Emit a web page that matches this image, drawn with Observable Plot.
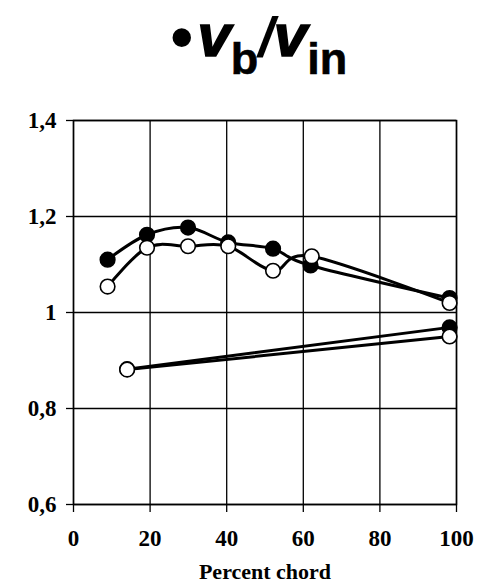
<!DOCTYPE html>
<html>
<head>
<meta charset="utf-8">
<script src="https://cdn.jsdelivr.net/npm/d3@7"></script>
<script src="https://cdn.jsdelivr.net/npm/@observablehq/plot@0.6"></script>
<style>
  html, body { margin: 0; padding: 0; background: #fff; }
  #wrap { position: relative; width: 483px; height: 584px; }
  #title { position: absolute; top: 6px; left: 0; width: 483px; padding-left: 36px; box-sizing: border-box;
    text-align: center; font-family: "Liberation Sans", Arial, sans-serif; font-weight: bold; font-size: 56px; line-height: 1; white-space: nowrap; }
  #title .b { display: inline-block; transform: scale(1.15); margin-right: 6px; }
  #title i { font-style: italic; font-size: 60px; -webkit-text-stroke: 1.6px black; }
  #title .s { font-size: 45px; position: relative; top: 18px; -webkit-text-stroke: 0.6px black; }
  #title .sl { font-size: 56px; font-style: italic; }
  #chart { position: absolute; top: 100px; left: 0; }
</style>
</head>
<body>
<div id="wrap">
  <div id="title"><span class="b">•</span><i>v</i><span class="s">b</span><span class="sl">/</span><i>v</i><span class="s">in</span></div>
  <div id="chart"></div>
</div>
<script>
const upperX = [8.9, 19.2, 29.9, 40.4, 52.1, 61.9, 98.2];
const upperFilled = [1.110, 1.162, 1.177, 1.146, 1.133, 1.098, 1.030];
const upperOpenX = [8.9, 19.2, 29.9, 40.4, 52.1, 62.2, 98.2];
const upperOpen = [1.054, 1.135, 1.138, 1.138, 1.087, 1.117, 1.020];
const lowerX = [14.0, 98.2];
const lowerFilled = [0.882, 0.969];
const lowerOpen = [0.881, 0.950];
const yTicks = [0.6, 0.8, 1, 1.2, 1.4];
const xTicks = [0, 20, 40, 60, 80, 100];

const series = [
  {id: "uf", fill: "black", xs: upperX, ys: upperFilled},
  {id: "uo", fill: "white", xs: upperOpenX, ys: upperOpen},
  {id: "lf", fill: "black", xs: lowerX, ys: lowerFilled},
  {id: "lo", fill: "white", xs: lowerX, ys: lowerOpen}
];

const marks = [
  Plot.ruleY(yTicks, {stroke: "black", strokeWidth: 1.3, strokeOpacity: 1}),
  Plot.ruleX(xTicks, {stroke: "black", strokeWidth: 1.3, strokeOpacity: 1}),
  Plot.frame({stroke: "black", strokeWidth: 1.5})
];
for (const s of series) {
  const data = s.xs.map((x, i) => ({x, y: s.ys[i]}));
  marks.push(Plot.line(data, {x: "x", y: "y", curve: "cardinal", tension: 0, stroke: "black", strokeWidth: 3}));
  marks.push(Plot.dot(data, {x: "x", y: "y", r: 7.3, fill: s.fill, stroke: "black", strokeWidth: 1.6}));
}

const chart = Plot.plot({
  width: 483,
  height: 484,
  marginTop: 20,
  marginBottom: 80,
  marginLeft: 73,
  marginRight: 27,
  style: {fontFamily: "'Liberation Serif', 'Times New Roman', serif", fontWeight: "bold", fontSize: "23px", color: "black", background: "white", overflow: "visible"},
  x: {domain: [0, 100], ticks: xTicks, tickSize: 8, tickPadding: 17, label: "Percent chord", labelAnchor: "center", labelArrow: "none", labelOffset: 74},
  y: {domain: [0.6, 1.4], ticks: yTicks, tickSize: 7, tickPadding: 10, label: null, tickFormat: d => String(d).replace(".", ",")},
  marks
});
chart.querySelectorAll("[aria-label='x-axis tick'] path, [aria-label='y-axis tick'] path").forEach(p => {
  p.setAttribute("stroke-width", "1.3"); p.setAttribute("stroke", "black");
});
const lab = chart.querySelector("[aria-label='x-axis label'] text");
if (lab) lab.setAttribute("font-size", "22");
document.getElementById("chart").appendChild(chart);
</script>
</body>
</html>
